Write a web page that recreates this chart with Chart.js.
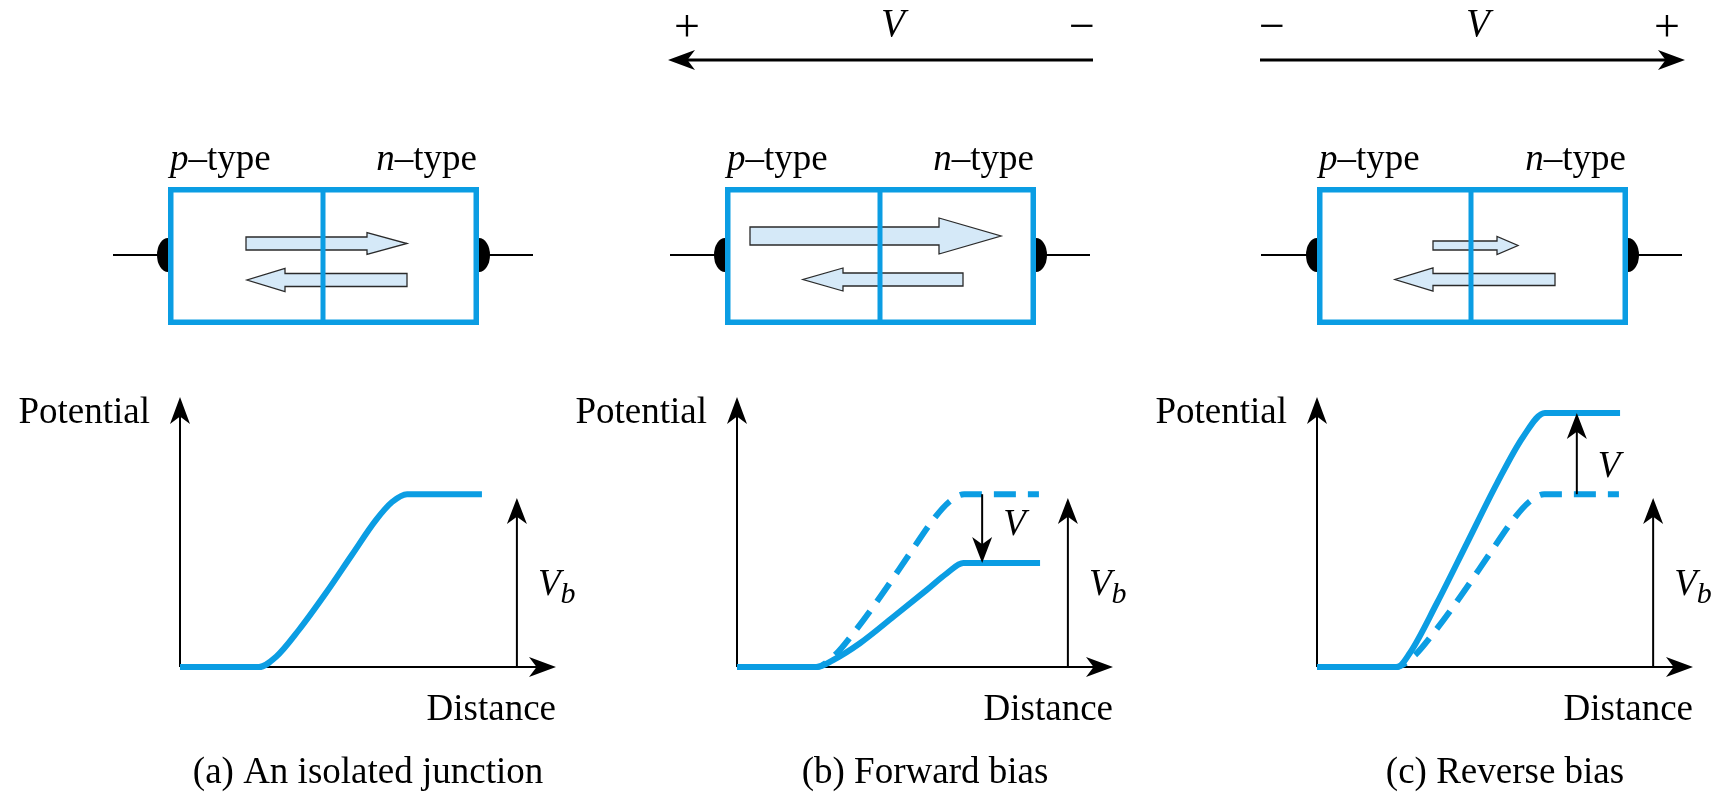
<!DOCTYPE html>
<html lang="en">
<head>
<meta charset="UTF-8">
<title>p-n junction potential</title>
<script src="https://cdn.jsdelivr.net/npm/chart.js@4"></script>
<style>
  body { margin: 0; background: #fff; }
  #wrap { position: relative; width: 1713px; height: 797px; }
  #wrap canvas { position: absolute; left: 0; top: 0; }
</style>
</head>
<body>
<div id="wrap">
  <canvas id="panelA" width="1713" height="797"></canvas>
  <canvas id="panelB" width="1713" height="797"></canvas>
  <canvas id="panelC" width="1713" height="797"></canvas>
</div>
<script>
// potential profiles (both axes run 0..10 in arbitrary units)
const zeroBiasDistance  = [0, 2.1, 2.55, 3.16, 3.88, 4.57, 5.21, 5.64, 6.04, 8.03];
const zeroBiasPotential = [0, 0, 0.37, 1.37, 2.74, 4.15, 5.44, 6.11, 6.4, 6.4];
const forwardDistance  = [0, 2.12, 2.56, 3.27, 4.16, 5.04, 5.58, 6.02, 8.06];
const forwardPotential = [0, 0, 0.26, 0.88, 1.86, 2.85, 3.47, 3.85, 3.85];
const reverseDistance  = [0, 2.13, 2.47, 3.19, 3.99, 4.79, 5.48, 6.06, 8.06];
const reversePotential = [0, 0, 0.52, 2.37, 4.59, 6.81, 8.52, 9.41, 9.41];

// marker arrows: barrier Vb and applied bias V
const vbArrowDistance = [8.96, 8.8, 8.94];
const vbArrowTop = 6.26;
const biasArrowDistance = [null, 6.52, 6.91];

const captions = ['(a) An isolated junction', '(b) Forward bias', '(c) Reverse bias'];

const BLUE = '#0b9de3';
const FONT = '"Liberation Serif", "DejaVu Serif", serif';

// drawing layout for each panel (page pixels)
const layout = [
  { canvas: 'panelA', origin: 180, box: [168, 323, 479], wires: [113, 533], biasLabelY: null,
    flows: [{ tail: 246, base: 367, tip: 407, y: 243.5, shaft: 13, head: 22 },
            { tail: 407, base: 285, tip: 247, y: 280, shaft: 13, head: 23 }],
    supply: null },
  { canvas: 'panelB', origin: 737, box: [725, 880, 1036], wires: [670, 1090], biasLabelY: 535,
    flows: [{ tail: 750, base: 939, tip: 1001, y: 236, shaft: 18, head: 36 },
            { tail: 963, base: 843, tip: 803, y: 279.5, shaft: 13, head: 23 }],
    supply: { from: 1093, to: 668, signs: ['+', '\u2212'], signX: [687, 1082], labelX: 893 } },
  { canvas: 'panelC', origin: 1317, box: [1317, 1471, 1628], wires: [1261, 1682], biasLabelY: 477,
    flows: [{ tail: 1433, base: 1497, tip: 1518, y: 245.5, shaft: 9, head: 18 },
            { tail: 1555, base: 1433, tip: 1395, y: 279.5, shaft: 12, head: 23 }],
    supply: { from: 1260, to: 1685, signs: ['\u2212', '+'], signX: [1272, 1667], labelX: 1478 } }
];

const curves = [
  [{ xs: zeroBiasDistance, ys: zeroBiasPotential, dashed: false }],
  [{ xs: forwardDistance, ys: forwardPotential, dashed: false },
   { xs: zeroBiasDistance, ys: zeroBiasPotential, dashed: true }],
  [{ xs: reverseDistance, ys: reversePotential, dashed: false },
   { xs: zeroBiasDistance, ys: zeroBiasPotential, dashed: true }]
];

function font(size, italic) {
  return (italic ? 'italic ' : '') + size + 'px ' + FONT;
}

function arrowHead(ctx, x, y, ang, len, half) {
  ctx.save();
  ctx.translate(x, y);
  ctx.rotate(ang);
  ctx.beginPath();
  ctx.moveTo(0, 0);
  ctx.lineTo(-len, -half);
  ctx.lineTo(-len * 0.72, 0);
  ctx.lineTo(-len, half);
  ctx.closePath();
  ctx.fill();
  ctx.restore();
}

function arrow(ctx, x1, y1, x2, y2, width, len, half) {
  const ang = Math.atan2(y2 - y1, x2 - x1);
  ctx.lineWidth = width;
  ctx.beginPath();
  ctx.moveTo(x1, y1);
  ctx.lineTo(x2 - Math.cos(ang) * len * 0.7, y2 - Math.sin(ang) * len * 0.7);
  ctx.stroke();
  arrowHead(ctx, x2, y2, ang, len, half);
}

// text made of roman/italic pieces
function richText(ctx, parts, x, y, align) {
  let w = 0;
  parts.forEach(p => { ctx.font = font(p.size || 37, p.italic); w += ctx.measureText(p.t).width; });
  let cx = align === 'right' ? x - w : align === 'center' ? x - w / 2 : x;
  ctx.textAlign = 'left';
  parts.forEach(p => {
    ctx.font = font(p.size || 37, p.italic);
    ctx.fillText(p.t, cx, y + (p.dy || 0));
    cx += ctx.measureText(p.t).width;
  });
}

const junctionPlugin = {
  id: 'junction',
  beforeDatasetsDraw(chart) {
    const ctx = chart.ctx, xs = chart.scales.x, ys = chart.scales.y;
    const ox = xs.getPixelForValue(0), oy = ys.getPixelForValue(0);
    ctx.save();
    ctx.strokeStyle = '#000';
    ctx.fillStyle = '#000';
    arrow(ctx, ox, oy, ox, ys.getPixelForValue(10), 2, 27, 10);
    arrow(ctx, ox, oy, xs.getPixelForValue(10), oy, 2, 27, 10);
    ctx.restore();
  },
  afterDatasetsDraw(chart, args, opts) {
    const i = opts.index, p = layout[i];
    const ctx = chart.ctx, xs = chart.scales.x, ys = chart.scales.y;
    const ox = xs.getPixelForValue(0), oy = ys.getPixelForValue(0);
    ctx.save();
    ctx.fillStyle = '#000';
    ctx.strokeStyle = '#000';
    ctx.textBaseline = 'alphabetic';

    // barrier arrow Vb
    const vx = xs.getPixelForValue(vbArrowDistance[i]);
    arrow(ctx, vx, oy, vx, ys.getPixelForValue(vbArrowTop), 2, 26, 10);
    richText(ctx, [{ t: 'V', italic: true }, { t: 'b', italic: true, size: 30, dy: 8 }], vx + 21, 595, 'left');

    // applied bias arrow V
    if (biasArrowDistance[i] !== null) {
      const bx = xs.getPixelForValue(biasArrowDistance[i]);
      const from = ys.getPixelForValue(zeroBiasPotential[zeroBiasPotential.length - 1]);
      const target = curves[i][0].ys[curves[i][0].ys.length - 1];
      arrow(ctx, bx, from, bx, ys.getPixelForValue(target), 2, 26, 10);
      richText(ctx, [{ t: 'V', italic: true }], bx + 21, p.biasLabelY, 'left');
    }

    // axis labels and caption
    richText(ctx, [{ t: 'Potential' }], ox - 30, 423, 'right');
    richText(ctx, [{ t: 'Distance' }], xs.getPixelForValue(10), 720, 'right');
    richText(ctx, [{ t: captions[i] }], (ox + xs.getPixelForValue(10)) / 2, 783, 'center');

    // junction diagram
    const [bl, bm, br] = p.box, bt = 187, bb = 325, wy = 255;
    ctx.lineWidth = 2;
    ctx.beginPath();
    ctx.moveTo(p.wires[0], wy); ctx.lineTo(bl, wy);
    ctx.moveTo(br, wy); ctx.lineTo(p.wires[1], wy);
    ctx.stroke();
    ctx.beginPath();
    ctx.ellipse(bl, wy, 11, 17, 0, Math.PI / 2, Math.PI * 1.5);
    ctx.fill();
    ctx.beginPath();
    ctx.ellipse(br, wy, 11, 17, 0, -Math.PI / 2, Math.PI / 2);
    ctx.fill();

    ctx.fillStyle = '#fff';
    ctx.fillRect(bl, bt, br - bl, bb - bt);
    ctx.strokeStyle = BLUE;
    ctx.lineWidth = 5.5;
    ctx.strokeRect(bl + 2.75, bt + 2.75, br - bl - 5.5, bb - bt - 5.5);

    p.flows.forEach(f => {
      ctx.beginPath();
      ctx.moveTo(f.tail, f.y - f.shaft / 2);
      ctx.lineTo(f.base, f.y - f.shaft / 2);
      ctx.lineTo(f.base, f.y - f.head / 2);
      ctx.lineTo(f.tip, f.y);
      ctx.lineTo(f.base, f.y + f.head / 2);
      ctx.lineTo(f.base, f.y + f.shaft / 2);
      ctx.lineTo(f.tail, f.y + f.shaft / 2);
      ctx.closePath();
      ctx.fillStyle = '#d5e9f8';
      ctx.fill();
      ctx.strokeStyle = '#2a2a2a';
      ctx.lineWidth = 1.3;
      ctx.stroke();
    });

    ctx.strokeStyle = BLUE;
    ctx.lineWidth = 5;
    ctx.beginPath();
    ctx.moveTo(bm, bt); ctx.lineTo(bm, bb);
    ctx.stroke();

    ctx.fillStyle = '#000';
    ctx.strokeStyle = '#000';
    richText(ctx, [{ t: 'p', italic: true }, { t: '\u2013type' }], bl + 2, 170, 'left');
    richText(ctx, [{ t: 'n', italic: true }, { t: '\u2013type' }], br - 2, 170, 'right');

    // applied voltage above the junction
    if (p.supply) {
      const s = p.supply;
      arrow(ctx, s.from, 60, s.to, 60, 3, 27, 10);
      richText(ctx, [{ t: s.signs[0], size: 46 }], s.signX[0], 41, 'center');
      richText(ctx, [{ t: s.signs[1], size: 46 }], s.signX[1], 41, 'center');
      richText(ctx, [{ t: 'V', italic: true, size: 39 }], s.labelX, 36, 'center');
    }
    ctx.restore();
  }
};

layout.forEach((p, i) => {
  const datasets = curves[i].map(c => ({
    data: c.xs.map((x, k) => ({ x: x, y: c.ys[k] })),
    borderColor: BLUE,
    borderWidth: 6,
    borderDash: c.dashed ? [22, 12] : [],
    cubicInterpolationMode: 'monotone',
    pointRadius: 0,
    fill: false,
    clip: false
  }));
  new Chart(document.getElementById(p.canvas), {
    type: 'line',
    data: { datasets: datasets },
    options: {
      responsive: false,
      animation: false,
      devicePixelRatio: 1,
      layout: { padding: { left: p.origin, right: 1713 - p.origin - 376, top: 397, bottom: 130 } },
      scales: {
        x: { type: 'linear', min: 0, max: 10, display: false },
        y: { type: 'linear', min: 0, max: 10, display: false }
      },
      plugins: {
        legend: { display: false },
        tooltip: { enabled: false },
        junction: { index: i }
      }
    },
    plugins: [junctionPlugin]
  });
});
</script>
</body>
</html>
